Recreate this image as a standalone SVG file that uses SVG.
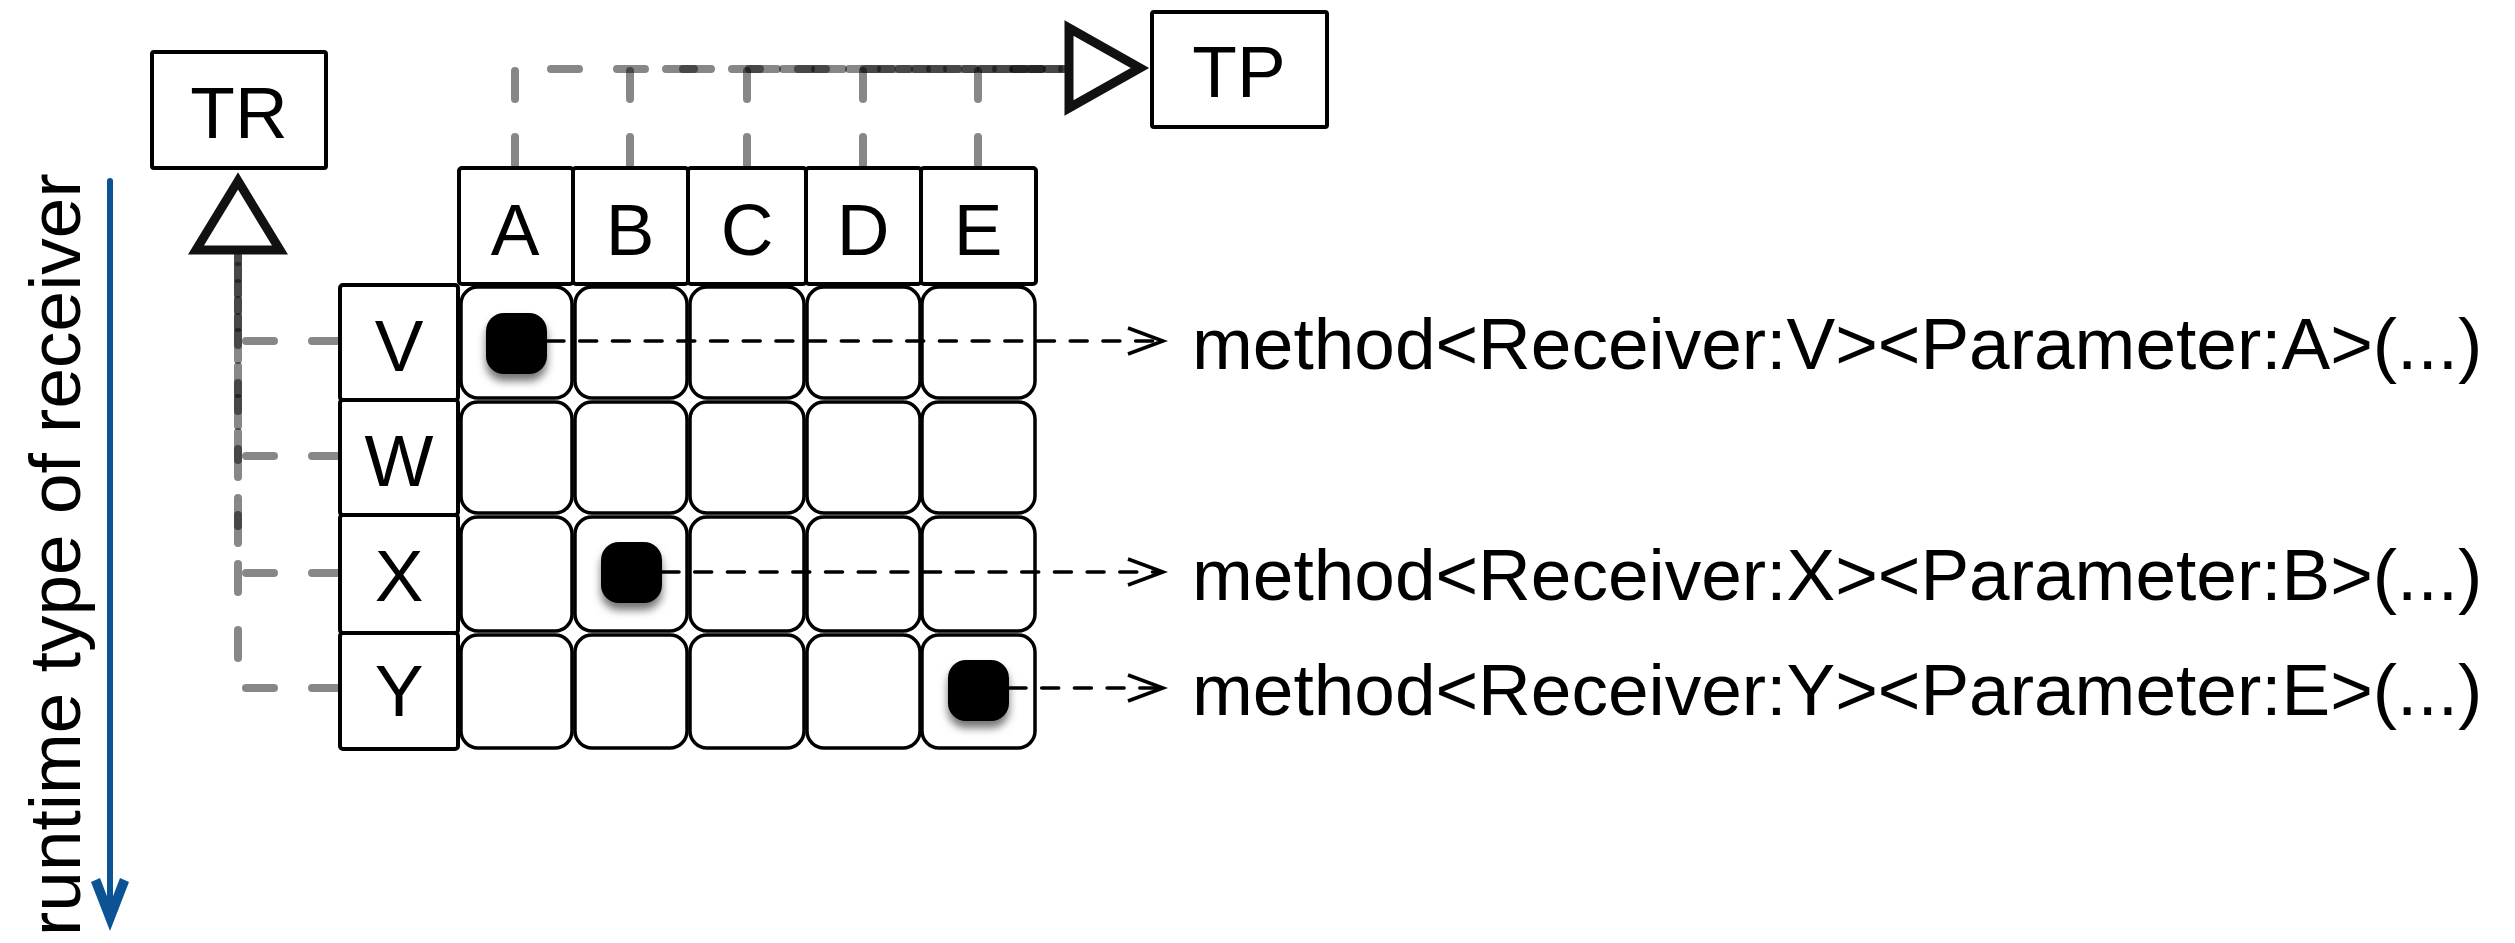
<svg xmlns="http://www.w3.org/2000/svg" width="2515" height="943" viewBox="0 0 2515 943">
<defs>
<style>
text{font-family:"Liberation Sans",Arial,Helvetica,sans-serif;font-size:73px;fill:#000}
.c{text-anchor:middle}
.box{fill:#fff;stroke:#000;stroke-width:4}
.hdr{fill:#fff;stroke:#000;stroke-width:4}
.cell{fill:#fff;stroke:#000;stroke-width:3.5}
.dot{fill:#000;filter:url(#sh)}
.gray{fill:none;stroke:#000;stroke-opacity:0.47;stroke-width:8;stroke-linecap:round;stroke-dasharray:28 38}
.blk{fill:none;stroke:#000;stroke-width:3.5;stroke-linecap:round;stroke-dasharray:17 15.7}
.ah{fill:none;stroke:#000;stroke-width:3.5}
.tri{fill:#fff;stroke:#111;stroke-width:9;stroke-linejoin:miter;stroke-miterlimit:10}
</style>
<filter id="sh" x="-30%" y="-30%" width="160%" height="170%">
<feDropShadow dx="0" dy="7" stdDeviation="4" flood-color="#000" flood-opacity="0.55"/>
</filter>
</defs>
<rect width="2515" height="943" fill="#fff"/>

<g id="axis">
<line x1="110" y1="181" x2="110" y2="905" stroke="#0B5394" stroke-width="6" stroke-linecap="round"/>
<polygon points="91,882 110,931 129,882 120,878 110,904 100,878" fill="#0B5394"/>
<text transform="translate(80,936) rotate(-90)">runtime type of receiver</text>
</g>

<g id="connectors">
<path class="gray" d="M515,165 V69 H1064"/>
<path class="gray" d="M630,165 V69 H1064"/>
<path class="gray" d="M747,165 V69 H1064"/>
<path class="gray" d="M863,165 V69 H1064"/>
<path class="gray" d="M978,165 V69 H1064"/>
<path class="gray" d="M340,341 H238 V256"/>
<path class="gray" d="M340,456 H238 V256"/>
<path class="gray" d="M340,573 H238 V256"/>
<path class="gray" d="M340,688 H238 V256"/>
<path class="ah" d="M1128,328 L1163,341 L1128,354"/>
<path class="ah" d="M1128,559 L1163,572 L1128,585"/>
<path class="ah" d="M1128,675 L1163,688 L1128,701"/>
</g>

<g id="TR">
<rect class="box" x="152" y="52" width="174" height="116" rx="2"/>
<text class="c" x="239" y="138">TR</text>
<polygon class="tri" points="238,181 196,250 280,250"/>
</g>

<g id="TP">
<rect class="box" x="1152" y="12" width="175" height="115" rx="2"/>
<text class="c" x="1239" y="97">TP</text>
<polygon class="tri" points="1069,28 1140,68 1069,108"/>
</g>

<g id="col-headers">
<rect class="hdr" x="459" y="168" width="114" height="116" rx="3"/>
<rect class="hdr" x="573" y="168" width="115" height="116" rx="3"/>
<rect class="hdr" x="688" y="168" width="118" height="116" rx="3"/>
<rect class="hdr" x="806" y="168" width="115" height="116" rx="3"/>
<rect class="hdr" x="921" y="168" width="115" height="116" rx="3"/>
<text class="c" x="515" y="255">A</text>
<text class="c" x="630" y="255">B</text>
<text class="c" x="747" y="255">C</text>
<text class="c" x="863" y="255">D</text>
<text class="c" x="978" y="255">E</text>
</g>

<g id="row-headers">
<rect class="hdr" x="340" y="285" width="118" height="115" rx="3"/>
<rect class="hdr" x="340" y="400" width="118" height="115" rx="3"/>
<rect class="hdr" x="340" y="515" width="118" height="118" rx="3"/>
<rect class="hdr" x="340" y="633" width="118" height="116" rx="3"/>
<text class="c" x="399" y="371">V</text>
<text class="c" x="399" y="486">W</text>
<text class="c" x="399" y="601">X</text>
<text class="c" x="399" y="716">Y</text>
</g>

<g id="grid">
<rect class="cell" x="461" y="287" width="111" height="111" rx="17"/>
<rect class="cell" x="575" y="287" width="112" height="111" rx="17"/>
<rect class="cell" x="690" y="287" width="114" height="111" rx="17"/>
<rect class="cell" x="807" y="287" width="113" height="111" rx="17"/>
<rect class="cell" x="922" y="287" width="113" height="111" rx="17"/>
<rect class="cell" x="461" y="402" width="111" height="111" rx="17"/>
<rect class="cell" x="575" y="402" width="112" height="111" rx="17"/>
<rect class="cell" x="690" y="402" width="114" height="111" rx="17"/>
<rect class="cell" x="807" y="402" width="113" height="111" rx="17"/>
<rect class="cell" x="922" y="402" width="113" height="111" rx="17"/>
<rect class="cell" x="461" y="517" width="111" height="114" rx="17"/>
<rect class="cell" x="575" y="517" width="112" height="114" rx="17"/>
<rect class="cell" x="690" y="517" width="114" height="114" rx="17"/>
<rect class="cell" x="807" y="517" width="113" height="114" rx="17"/>
<rect class="cell" x="922" y="517" width="113" height="114" rx="17"/>
<rect class="cell" x="461" y="635" width="111" height="113" rx="17"/>
<rect class="cell" x="575" y="635" width="112" height="113" rx="17"/>
<rect class="cell" x="690" y="635" width="114" height="113" rx="17"/>
<rect class="cell" x="807" y="635" width="113" height="113" rx="17"/>
<rect class="cell" x="922" y="635" width="113" height="113" rx="17"/>
</g>

<g id="dots">
<rect class="dot" x="486" y="313" width="61" height="61" rx="18"/>
<rect class="dot" x="601" y="542" width="61" height="61" rx="18"/>
<rect class="dot" x="948" y="660" width="61" height="61" rx="18"/>
</g>

<g id="calls">
<path class="blk" d="M547,341 H1158"/>
<path class="blk" d="M662,572 H1158"/>
<path class="blk" d="M1009,688 H1158"/>
<text x="1192" y="369">method&lt;Receiver:V&gt;&lt;Parameter:A&gt;(...)</text>
<text x="1192" y="600">method&lt;Receiver:X&gt;&lt;Parameter:B&gt;(...)</text>
<text x="1192" y="715">method&lt;Receiver:Y&gt;&lt;Parameter:E&gt;(...)</text>
</g>
</svg>
